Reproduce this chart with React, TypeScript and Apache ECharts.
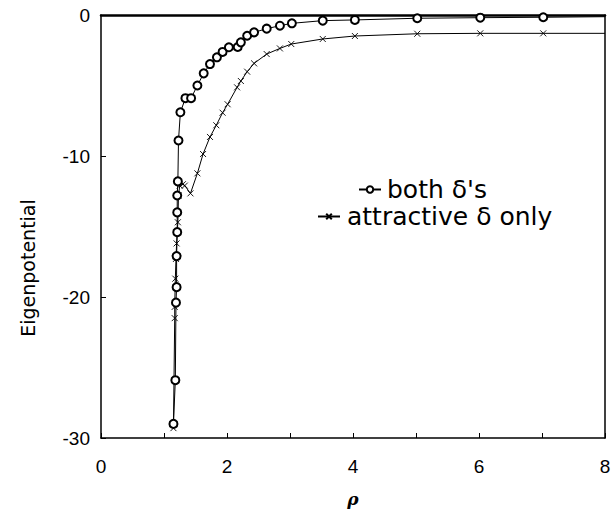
import React, { useEffect, useRef } from "react";
import * as echarts from "echarts";

// "both δ's" series (open circles)
const bothX = [1.15, 1.18, 1.19, 1.2, 1.2, 1.21, 1.21, 1.21, 1.22, 1.23, 1.26, 1.34, 1.43, 1.53, 1.63, 1.73, 1.84, 1.93, 2.03, 2.17, 2.22, 2.32, 2.43, 2.63, 2.84, 3.03, 3.52, 4.03, 5.02, 6.02, 7.02, 8.0];
const bothY = [-29.0, -25.9, -20.4, -19.3, -17.1, -15.4, -14.0, -12.8, -11.8, -8.9, -6.9, -5.9, -5.9, -5.0, -4.14, -3.48, -3.0, -2.62, -2.29, -2.27, -1.94, -1.47, -1.23, -0.97, -0.76, -0.59, -0.4, -0.35, -0.23, -0.19, -0.16, -0.12];

// "attractive δ only" series (crosses)
const attrX = [1.15, 1.17, 1.17, 1.18, 1.19, 1.2, 1.21, 1.22, 1.23, 1.25, 1.3, 1.33, 1.42, 1.53, 1.62, 1.73, 1.83, 1.93, 2.01, 2.16, 2.22, 2.32, 2.43, 2.63, 2.84, 3.02, 3.52, 4.03, 5.02, 6.02, 7.02, 8.0];
const attrY = [-29.3, -21.5, -20.7, -18.7, -17.3, -16.2, -15.4, -14.7, -12.8, -12.1, -12.0, -12.1, -12.65, -11.23, -9.86, -8.65, -7.82, -6.93, -6.33, -5.13, -4.68, -4.02, -3.43, -2.77, -2.37, -2.06, -1.7, -1.49, -1.33, -1.3, -1.3, -1.3];

const seriesNames = ["both δ's", "attractive δ only"];
const xTicks = [0, 2, 4, 6, 8];
const yTicks = [0, -10, -20, -30];

const CROSS = "path://M0,0L10,10M10,0L0,10";

function build(xs: number[], ys: number[]) {
  return xs.map((x, i) =>
    i === xs.length - 1 ? { value: [x, ys[i]], symbol: "none" } : { value: [x, ys[i]] }
  );
}

export default function App() {
  const ref = useRef<HTMLDivElement>(null);
  useEffect(() => {
    if (!ref.current) return;
    const chart = echarts.init(ref.current, null, { renderer: "svg" });
    const tickFont = { fontFamily: "Liberation Sans", fontSize: 19, color: "#000" };
    chart.setOption({
      animation: false,
      backgroundColor: "#fff",
      grid: { left: 101, right: 11, top: 15, bottom: 74, show: false, outerBoundsMode: "none" },
      xAxis: [
        {
          type: "value",
          min: xTicks[0],
          max: xTicks[xTicks.length - 1],
          interval: 2,
          axisLine: { onZero: false, lineStyle: { color: "#000", width: 1.5 } },
          axisTick: { inside: true, length: 5, lineStyle: { color: "#000" } },
          minorTick: { show: true, splitNumber: 2, length: 5, lineStyle: { color: "#000" } },
          splitLine: { show: false },
          axisLabel: { ...tickFont, margin: 19 },
          name: "ρ",
          nameLocation: "middle",
          nameGap: 52,
          nameTextStyle: { fontFamily: "DejaVu Serif", fontStyle: "italic", fontWeight: "bold", fontSize: 17, color: "#000" },
        },
        {
          type: "value",
          position: "top",
          min: 0,
          max: 8,
          interval: 2,
          axisLine: { show: true, onZero: false, lineStyle: { color: "#000", width: 2.5 } },
          axisTick: { show: false },
          axisLabel: { show: false },
          splitLine: { show: false },
        },
      ],
      yAxis: [
        {
          type: "value",
          min: yTicks[yTicks.length - 1],
          max: yTicks[0],
          interval: 10,
          axisLine: { show: true, onZero: false, lineStyle: { color: "#000", width: 1.5 } },
          axisTick: { show: true, inside: true, length: 5, lineStyle: { color: "#000" } },
          splitLine: { show: false },
          axisLabel: { ...tickFont, margin: 11 },
        },
        {
          type: "value",
          position: "right",
          min: -30,
          max: 0,
          interval: 10,
          axisLine: { show: true, onZero: false, lineStyle: { color: "#000", width: 1.5 } },
          axisTick: { show: false },
          axisLabel: { show: false },
          splitLine: { show: false },
        },
      ],
      legend: [
        {
          data: [seriesNames[0]],
          left: 358,
          top: 177,
          padding: 0,
          itemWidth: 22,
          itemHeight: 8,
          textStyle: { fontFamily: "DejaVu Sans", fontSize: 25, lineHeight: 24, color: "#000", padding: [0, 0, 0, 1] },
        },
        {
          data: [seriesNames[1]],
          left: 317,
          top: 204,
          padding: 0,
          itemWidth: 22,
          itemHeight: 7,
          textStyle: { fontFamily: "DejaVu Sans", fontSize: 25, lineHeight: 24, color: "#000", padding: [0, 0, 0, 2] },
        },
      ],
      graphic: [
        {
          type: "text",
          x: 28,
          y: 268,
          rotation: Math.PI / 2,
          style: {
            text: "Eigenpotential",
            fontFamily: "DejaVu Sans",
            fontSize: 19,
            fill: "#000",
            align: "center",
            verticalAlign: "middle",
          },
        },
      ],
      series: [
        {
          name: seriesNames[0],
          type: "line",
          data: build(bothX, bothY),
          symbol: "emptyCircle",
          symbolSize: 8,
          lineStyle: { color: "#000", width: 1 },
          itemStyle: { color: "#000", borderColor: "#000", borderWidth: 0.9 },
          z: 3,
        },
        {
          name: seriesNames[1],
          type: "line",
          data: build(attrX, attrY),
          symbol: CROSS,
          symbolSize: 6,
          lineStyle: { color: "#000", width: 1 },
          itemStyle: { color: "#000", borderColor: "#000", borderWidth: 0.9 },
          z: 2,
        },
      ],
    });
    return () => chart.dispose();
  }, []);
  return (
    <div
      ref={ref}
      style={{ position: "absolute", left: 0, top: 0, width: 616, height: 512, background: "#fff" }}
    />
  );
}
